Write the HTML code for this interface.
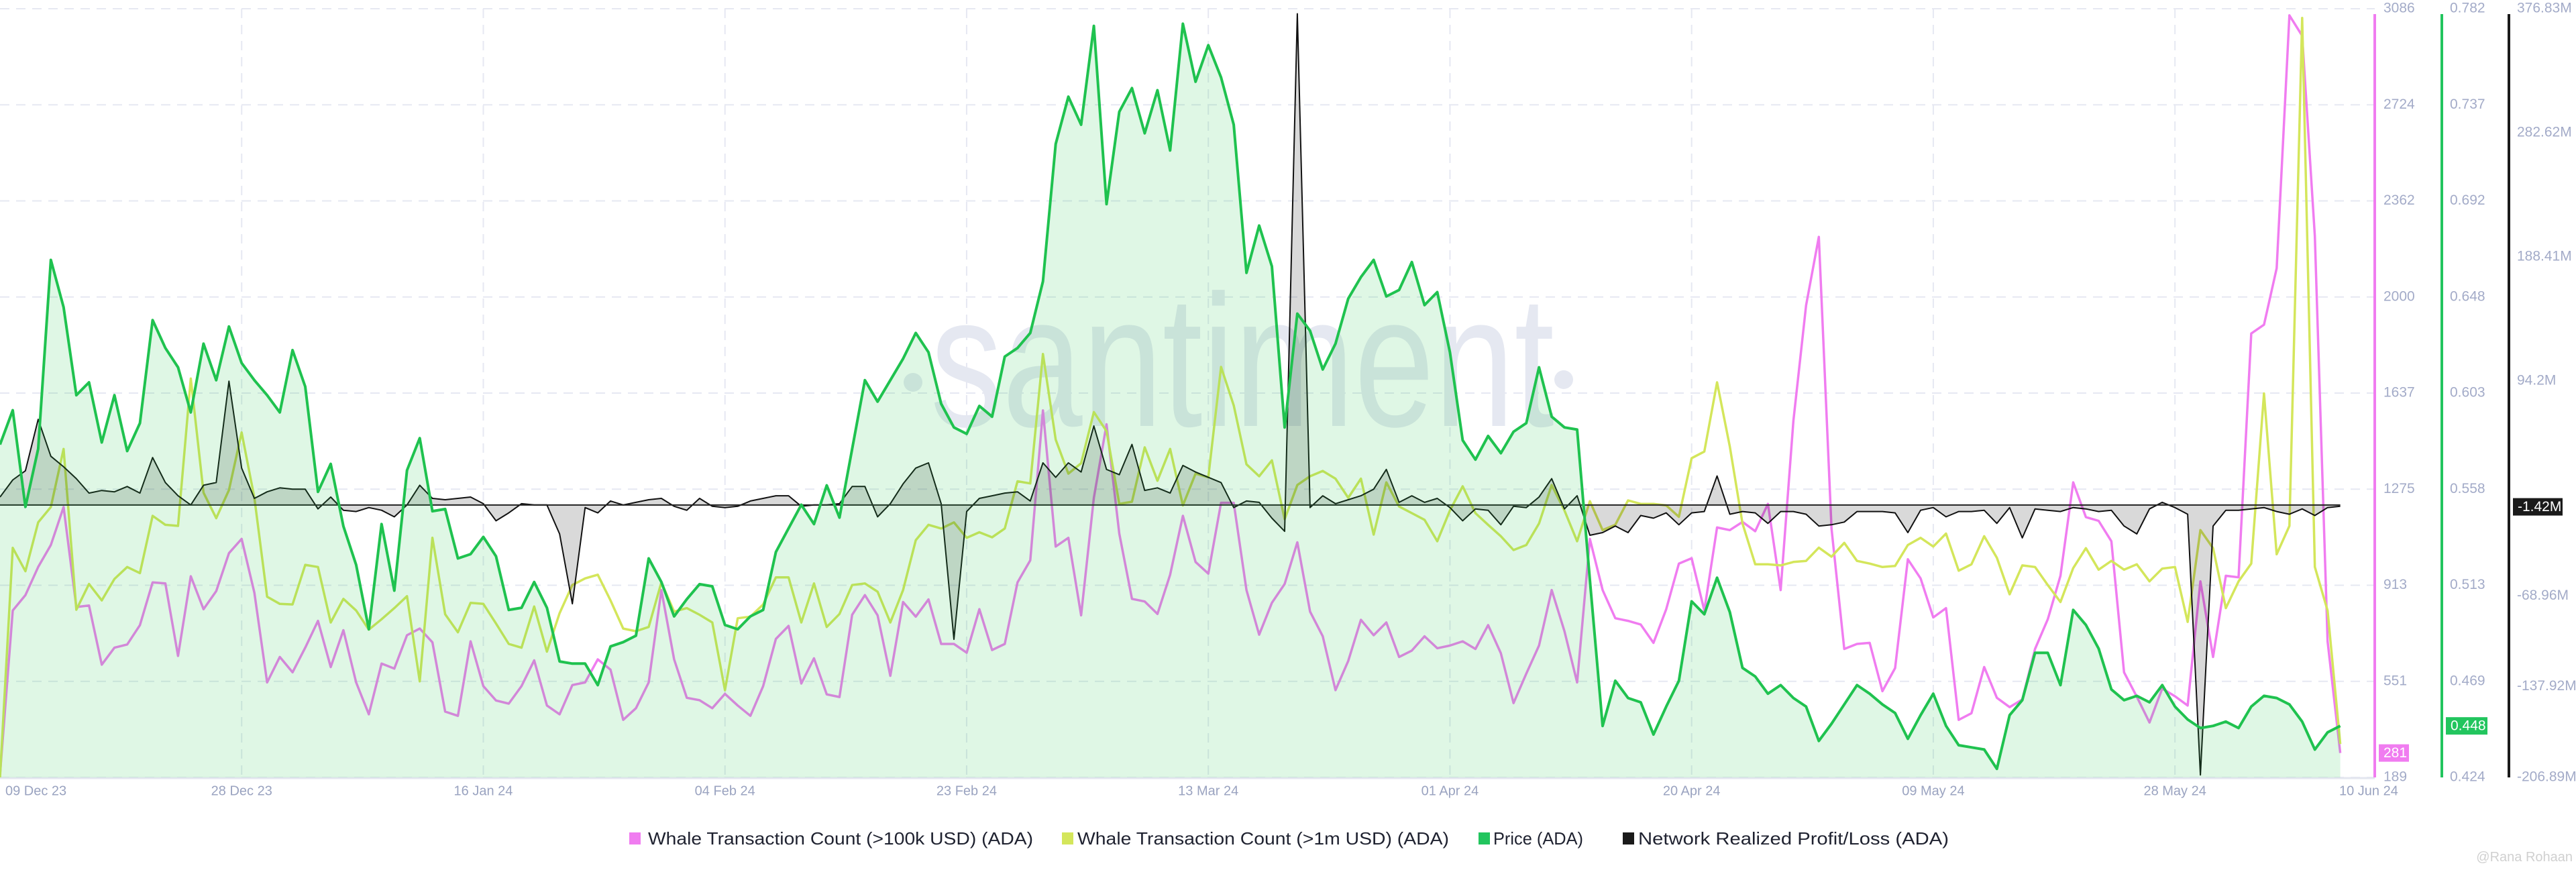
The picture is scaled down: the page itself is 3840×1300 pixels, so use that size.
<!DOCTYPE html>
<html><head><meta charset="utf-8"><style>
html,body{margin:0;padding:0;background:#fff;}
svg{display:block;font-family:"Liberation Sans",Arial,sans-serif;}
</style></head><body>
<svg id="chart" width="3840" height="1300" viewBox="0 0 3840 1300" xmlns="http://www.w3.org/2000/svg">
<g id="grid"></g>
<g>
<circle cx="1361" cy="570" r="14" fill="#e5e8f1"/>
<text x="1387" y="635" font-size="280" fill="#e5e8f1" textLength="930" lengthAdjust="spacingAndGlyphs">santiment</text>
<circle cx="2331" cy="566" r="14" fill="#e5e8f1"/>
</g>
<g id="series"></g>
<g id="axes"></g>
<g id="legend">
<rect x="938" y="1241" width="17" height="18" fill="#f07cf0"/>
<text x="966" y="1259" font-size="26" fill="#1f2230" textLength="574" lengthAdjust="spacingAndGlyphs">Whale Transaction Count (&gt;100k USD) (ADA)</text>
<rect x="1583" y="1241" width="17" height="18" fill="#d4e65b"/>
<text x="1606" y="1259" font-size="26" fill="#1f2230" textLength="554" lengthAdjust="spacingAndGlyphs">Whale Transaction Count (&gt;1m USD) (ADA)</text>
<rect x="2204" y="1241" width="17" height="18" fill="#22c55e"/>
<text x="2226" y="1259" font-size="26" fill="#1f2230" textLength="134" lengthAdjust="spacingAndGlyphs">Price (ADA)</text>
<rect x="2419" y="1241" width="17" height="18" fill="#1a1a1a"/>
<text x="2442" y="1259" font-size="26" fill="#1f2230" textLength="463" lengthAdjust="spacingAndGlyphs">Network Realized Profit/Loss (ADA)</text>
</g>
<text x="3835" y="1284" font-size="20" fill="#d0d0d0" text-anchor="end">@Rana Rohaan</text>
</svg>
<script>
const whale100k = [200,818,876,982,1065,1208,831,837,614,678,690,763,924,920,647,947,823,891,1034,1088,885,547,643,585,678,779,605,744,547,427,618,599,725,750,698,437,421,702,533,479,467,533,630,460,427,537,547,634,
595,406,450,547,895,634,489,480,450,504,460,421,533,711,760,543,638,502,492,802,876,800,572,850,795,860,692,692,659,823,669,692,924,1007,1572,1059,1092,800,1243,1520,1108,862,852,805,953,1175,1001,
957,1224,1224,895,727,847,918,1075,814,721,518,628,783,725,773,643,667,721,676,686,702,673,763,657,469,580,686,895,740,547,1088,895,789,779,765,696,823,995,1015,818,1131,1121,1152,1117,1220,895,1533,
1968,2226,1127,673,692,696,514,601,1011,939,792,827,406,431,605,489,454,483,673,785,949,1301,1170,1156,1079,585,493,396,524,495,460,928,643,949,943,1862,1895,2108,3061,2984,2229,702,281];
const whale1m = [189,1054,966,1150,1208,1427,821,918,856,937,982,959,1175,1141,1137,1692,1262,1166,1272,1489,1243,870,843,841,990,982,773,862,818,746,785,827,872,551,1092,804,736,847,843,769,692,678,833,663,808,914,939,953,
856,750,740,756,924,814,827,802,773,518,789,795,841,943,943,773,920,756,805,914,920,889,773,895,1083,1141,1127,1150,1092,1113,1094,1127,1305,1297,1785,1462,1334,1373,1566,1494,1220,1228,1433,1307,1427,1214,1334,
1320,1736,1591,1369,1324,1384,1162,1291,1324,1344,1315,1243,1315,1104,1301,1210,1185,1160,1079,1195,1286,1185,1141,1098,1046,1065,1146,1291,1195,1079,1230,1121,1141,1233,1220,1220,1214,1171,1392,1417,1678,1436,1146,992,992,988,1001,
1005,1055,1021,1073,1005,995,982,986,1065,1092,1059,1108,968,992,1098,1017,879,988,982,914,850,978,1053,972,1005,972,992,928,976,982,775,1121,1053,827,928,995,1636,1030,1137,3051,982,818,315];
const price = [.579,.595,.550,.577,.665,.643,.602,.608,.580,.602,.576,.589,.637,.624,.615,.594,.626,.609,.634,.617,.609,.602,.594,.623,.606,.557,.570,.541,.523,.493,.542,.511,.567,.582,.548,.549,.526,.528,.536,.527,.502,.503,.515,.503,.478,.477,.477,.467,
.485,.487,.490,.526,.515,.499,.507,.514,.513,.495,.493,.499,.502,.529,.540,.551,.542,.560,.545,.577,.609,.599,.609,.619,.631,.622,.598,.587,.584,.597,.592,.620,.624,.631,.655,.719,.741,.728,.774,.691,.734,.745,.724,.744,.716,.775,.748,
.765,.750,.728,.659,.681,.662,.587,.640,.632,.614,.626,.647,.657,.665,.648,.651,.664,.644,.650,.622,.581,.572,.583,.575,.585,.589,.615,.592,.587,.586,.516,.448,.469,.461,.459,.444,.457,.469,.506,.500,.517,.501,.475,.471,.463,.467,.461,
.457,.441,.449,.458,.467,.463,.458,.454,.442,.453,.463,.448,.439,.438,.437,.428,.453,.460,.482,.482,.467,.502,.495,.484,.465,.460,.462,.459,.467,.457,.451,.447,.448,.450,.447,.457,.462,.461,.458,.450,.437,.445,.448];
const nrpl = [6,19,26,65,37,29,20,9,11,10,14,9,36,17,7,0,15,17,94,28,5,10,13,12,12,-3,6,-4,-5,-2,-4,-9,0,15,5,4,5,6,1,-12,-6,1,0,0,-22,-75,-2,-6,
3,0,2,4,5,-1,-4,5,-1,-2,-1,3,5,7,7,-1,0,0,1,14,14,-9,1,16,28,32,1,-102,-5,5,7,9,10,3,32,21,32,25,60,27,23,46,11,13,9,30,25,
21,17,-2,3,2,-10,-20,373,-2,7,1,4,7,12,27,2,7,2,5,-2,-12,-3,-4,-15,-1,-2,6,20,-3,7,-23,-21,-16,-21,-8,-10,-6,-15,-6,-5,22,-7,-5,-6,-14,-5,-5,
-7,-16,-15,-13,-5,-5,-5,-6,-21,-4,-2,-9,-5,-5,-4,-14,-2,-25,-3,-4,-5,-2,-3,-5,-4,-16,-22,-3,2,-2,-7,-205,-16,-4,-4,-3,-2,-5,-7,-3,-8,-2,-1];
const countTicks = ["3086","2724","2362","2000","1637","1275","913","551","189"];
const priceTicks = ["0.782","0.737","0.692","0.648","0.603","0.558","0.513","0.469","0.424"];
const nrplTickValues = [376.83,282.62,188.41,94.2,-68.96,-137.92,-206.89];
const nrplTickLabels = ["376.83M","282.62M","188.41M","94.2M","-68.96M","-137.92M","-206.89M"];
const dateLabels = ["09 Dec 23","28 Dec 23","16 Jan 24","04 Feb 24","23 Feb 24","13 Mar 24","01 Apr 24","20 Apr 24","09 May 24","28 May 24"];
const lastDateLabel = "10 Jun 24";

const NS="http://www.w3.org/2000/svg";
const TOP=13,BOT=1159,DX=18.96;
const C_MIN=189,C_MAX=3086,P_MIN=0.424,P_MAX=0.782,N_MIN=-206.89,N_MAX=376.83;
function xScale(i){return i*DX;}
function yCount(v){return BOT-(v-C_MIN)/(C_MAX-C_MIN)*(BOT-TOP);}
function yPrice(v){return BOT-(v-P_MIN)/(P_MAX-P_MIN)*(BOT-TOP);}
function yNrpl(v){return BOT-(v-N_MIN)/(N_MAX-N_MIN)*(BOT-TOP);}
function mk(tag,attrs,parent){const e=document.createElementNS(NS,tag);for(const k in attrs)e.setAttribute(k,attrs[k]);parent.appendChild(e);return e;}
function linePath(arr,ys){return arr.map((v,i)=>(i?"L":"M")+xScale(i).toFixed(1)+","+ys(v).toFixed(1)).join("");}

const grid=document.getElementById('grid');
countTicks.forEach((t,i)=>{
  const y=TOP+i*(BOT-TOP)/8;
  const l=mk('line',{x1:0,x2:3540,y1:y,y2:y,stroke:'#e6e8f2','stroke-width':2,'stroke-dasharray':'14 10'},grid);
  
  
});
dateLabels.forEach((t,i)=>{
  if(i===0)return;
  const x=xScale(i*19);
  const l=mk('line',{x1:x,x2:x,y1:TOP,y2:BOT,stroke:'#e6e8f2','stroke-width':2,'stroke-dasharray':'14 10'},grid);
  
  
});
const base=mk('line',{x1:0,x2:3540,y1:BOT+1,y2:BOT+1,stroke:'#e3e6ef','stroke-width':3},grid);



const S=document.getElementById('series');
const n=price.length, xEnd=xScale(n-1);
const pk=mk('path',{d:linePath(whale100k,yCount),fill:'none',stroke:'#f07cf0','stroke-width':3.5,'stroke-linejoin':'round'},S);


const yl=mk('path',{d:linePath(whale1m,yCount),fill:'none',stroke:'#d4e65b','stroke-width':3.5,'stroke-linejoin':'round'},S);


const y0=yNrpl(0);
const na=mk('path',{d:linePath(nrpl,yNrpl)+"L"+xEnd+","+y0+"L0,"+y0+"Z",fill:'rgba(0,0,0,0.15)',stroke:'none'},S);


const nl=mk('path',{d:linePath(nrpl,yNrpl),fill:'none',stroke:'#111','stroke-width':2,'stroke-linejoin':'round'},S);


const zl=mk('line',{x1:0,x2:xEnd,y1:y0,y2:y0,stroke:'#222','stroke-width':2},S);


const ga=mk('path',{d:linePath(price,yPrice)+"L"+xEnd+","+BOT+"L0,"+BOT+"Z",fill:'rgba(38,201,83,0.15)',stroke:'none'},S);


const gl=mk('path',{d:linePath(price,yPrice),fill:'none',stroke:'#1fc24f','stroke-width':4,'stroke-linejoin':'round'},S);



const A=document.getElementById('axes');
function axisLine(x,color,name){const l=mk('line',{x1:x,x2:x,y1:TOP+8,y2:BOT,stroke:color,'stroke-width':4},A);}
axisLine(3540,'#f07cf0','whale-count-axis');
axisLine(3640,'#22c55e','price-axis');
axisLine(3740,'#1a1a1a','nrpl-axis');
function lab(x,y,t,name,anchor){const e=mk('text',{x:x,y:y,'font-size':21,fill:'#a3abc8','text-anchor':anchor||'start','dominant-baseline':'middle'},A);e.textContent=t;}
countTicks.forEach((t,i)=>lab(3553,TOP+i*(BOT-TOP)/8,t,'count-tick-label'));
priceTicks.forEach((t,i)=>lab(3652,TOP+i*(BOT-TOP)/8,t,'price-tick-label'));
nrplTickValues.forEach((v,i)=>lab(3752,yNrpl(v),nrplTickLabels[i],'nrpl-tick-label'));
dateLabels.forEach((t,i)=>{const x=i===0?8:xScale(i*19);const e=mk('text',{x:x,y:1180,'font-size':20,fill:'#9aa3c0','text-anchor':i===0?'start':'middle','dominant-baseline':'middle'},A);e.textContent=t;});
const ll=mk('text',{x:3487,y:1180,'font-size':20,fill:'#9aa3c0','dominant-baseline':'middle'},A);ll.textContent=lastDateLabel;


function badge(x,y,w,bg,t,name){const g=mk('g',{},A);mk('rect',{x:x,y:y-13,width:w,height:26,fill:bg},g);const e=mk('text',{x:x+7,y:y+1,'font-size':21,fill:'#fff','dominant-baseline':'middle'},g);e.textContent=t;}
badge(3546,yCount(whale100k[n-1]),45,'#f07cf0',String(whale100k[n-1]),'whale-100k-value-badge');
badge(3646,yPrice(price[n-1]),62,'#22c55e',price[n-1].toFixed(3),'price-value-badge');
badge(3746,yNrpl(-1.42),74,'#1a1a1a','-1.42M','nrpl-value-badge');
</script>
</body></html>
